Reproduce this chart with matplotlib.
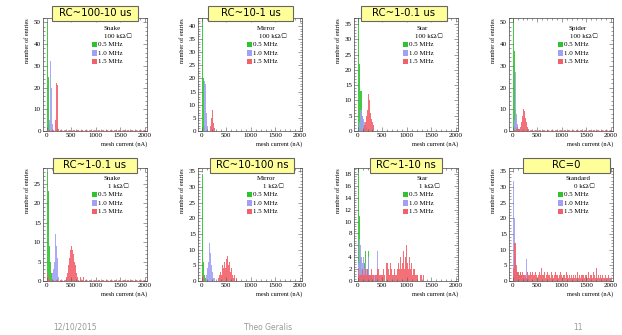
import matplotlib
matplotlib.use("Agg")
import matplotlib.pyplot as plt
from matplotlib.patches import Rectangle
from matplotlib.ticker import MultipleLocator, AutoMinorLocator
import numpy as np

# histogram counts, 20 nA bins starting at 0 nA
bin_width = 20

snake100_g = [50, 25, 3]
snake100_b = [0, 0, 5, 32, 20, 3]
snake100_r = [0, 0, 0, 0, 0, 0, 0, 0, 5, 22, 21, 6, 1]

mirror100_g = [43, 20, 2]
mirror100_b = [0, 0, 19, 18, 7, 2]
mirror100_r = [0, 0, 0, 0, 0, 0, 0, 0, 2, 5, 8, 7, 3, 1]

star100_g = [37, 22, 13, 13, 5, 2]
star100_b = [0, 3, 7, 7, 5, 4, 3, 2, 1]
star100_r = [0, 0, 0, 0, 0, 1, 2, 3, 5, 7, 12, 18, 10, 6, 4, 3, 2]

spider100_g = [52, 37, 10, 2]
spider100_b = [0, 5, 27, 8, 3]
spider100_r = [0, 0, 0, 1, 2, 1, 1, 2, 4, 7, 10, 11, 9, 6, 4, 2, 1]

snake1_g = [28, 23, 9, 5, 2]
snake1_b = [0, 0, 0, 0, 0, 2, 3, 5, 12, 9, 6, 3, 1]
snake1_r = [2, 1, 0, 0, 0, 0, 0, 0, 0, 0, 0, 0, 0, 0, 0, 0, 0, 0, 0, 0, 1,
            2, 4, 6, 8, 9, 8, 7, 5, 4, 2, 1, 0, 0, 1, 0, 0, 1]

mirror1_g = [34, 6, 2, 1]
mirror1_b = [0, 0, 0, 0, 2, 4, 6, 12, 9, 5, 3, 2, 1, 1]
mirror1_r = [2, 1, 0, 0, 0, 0, 0, 0, 0, 0, 0, 0, 0, 0, 0, 0, 0, 1, 2, 3,
             2, 5, 4, 6, 4, 7, 8, 5, 6, 3, 4, 2, 1, 2, 0, 1]

star1_g = [19, 11, 4, 2, 1, 2, 3, 5, 1, 2, 5, 1]
star1_b = [3, 7, 6, 4, 3, 4, 2, 3, 2, 1, 4, 2, 1, 1, 1, 0, 1, 1, 1, 0, 5]
star1_r = [2, 1, 1, 1, 2, 1, 1, 2, 1, 2,
           1, 2, 1, 1, 2, 1, 1, 0, 1, 1,
           2, 2, 1, 1, 1, 1, 2, 1, 0, 3,
           3, 2, 1, 3, 2, 1, 1, 2, 1, 1,
           2, 3, 2, 4, 2, 3, 5, 2, 4, 6,
           3, 2, 4, 2, 3, 1, 2, 2, 1, 1,
           1, 0, 0, 1, 1, 0, 1]

std0_g = [2, 1, 1, 2, 3, 2, 2, 3, 2, 1, 2, 1]
std0_b = [32, 20, 8, 3, 2, 1, 1, 2, 1, 1, 1, 1, 1, 1, 7, 3, 1]
std0_r = [4, 12, 12, 5, 3, 3, 2, 3, 2, 3,
          2, 3, 2, 2, 1, 3, 2, 2, 3, 2,
          3, 2, 2, 3, 2, 1, 2, 3, 2, 4,
          2, 2, 3, 1, 2, 3, 2, 2, 1, 3,
          2, 1, 2, 3, 2, 2, 1, 2, 3, 2,
          1, 2, 2, 1, 3, 2, 1, 2, 1, 2,
          1, 2, 1, 2, 1, 3, 1, 2, 1, 2,
          2, 1, 2, 1, 2, 2, 1, 3, 1, 2,
          2, 1, 3, 2, 1, 4, 1, 2, 1, 2,
          1, 2, 1, 1, 2, 1, 1, 2, 1, 1]

titles = ["RC~100-10 us", "RC~10-1 us", "RC~1-0.1 us", None,
          "RC~1-0.1 us", "RC~10-100 ns", "RC~1-10 ns", "RC=0"]
shapes = ["Snake", "Mirror", "Star", "Spider", "Snake", "Mirror", "Star", "Standard"]
resist = ["100 k\u03a9/\u25a1"] * 4 + ["1 k\u03a9/\u25a1"] * 3 + ["0 k\u03a9/\u25a1"]
ymax = [52, 43, 37, 52, 29, 36, 19, 36]
ystep = [10, 5, 5, 10, 5, 5, 2, 5]
series = [(snake100_g, snake100_b, snake100_r), (mirror100_g, mirror100_b, mirror100_r),
          (star100_g, star100_b, star100_r), (spider100_g, spider100_b, spider100_r),
          (snake1_g, snake1_b, snake1_r), (mirror1_g, mirror1_b, mirror1_r),
          (star1_g, star1_b, star1_r), (std0_g, std0_b, std0_r)]
freqs = ["0.5 MHz", "1.0 MHz", "1.5 MHz"]

colors = ["#2ec42e", "#a0a0f5", "#f2606a"]
serif = ["Liberation Serif", "DejaVu Serif"]

W, H = 622, 335
fig = plt.figure(figsize=(W / 100, H / 100), dpi=100)
fig.patch.set_facecolor("white")

col_left = [43, 198, 354, 509]
col_w = 104
row_top = [18, 168]
ax_h = 113
box_x = [(52, 138), (208, 293), (361, 447), None, (53, 137), (210, 294), (370, 442), (523, 610)]
box_y = [6, 6, 6, None, 158, 158, 158, 158]
nbins = 100
edges = np.arange(nbins + 1) * bin_width

for i in range(8):
    r, c = divmod(i, 4)
    l, t = col_left[c], row_top[r]
    ax = fig.add_axes([l / W, 1 - (t + ax_h) / H, col_w / W, ax_h / H])
    for k, counts in enumerate(series[i]):
        counts = np.array(counts + [0] * (nbins - len(counts)), dtype=float)
        ax.stairs(counts, edges, fill=True, color=colors[k], alpha=0.9, lw=0)
    # dashed baseline of the 1.5 MHz histogram
    ax.plot([0, 2000], [0.15 * ystep[i] / 5, 0.15 * ystep[i] / 5], color=colors[2],
            lw=0.6, ls=(0, (3, 2)))
    ax.set_xlim(-75, 2040)
    ax.set_ylim(0, ymax[i])
    ax.xaxis.set_major_locator(MultipleLocator(500))
    ax.yaxis.set_major_locator(MultipleLocator(ystep[i]))
    ax.xaxis.set_minor_locator(AutoMinorLocator(5))
    ax.yaxis.set_minor_locator(AutoMinorLocator(5))
    ax.tick_params(which="both", direction="in", top=True, right=True,
                   labelsize=5, pad=1.5, width=0.4, color="#555555")
    ax.tick_params(which="major", length=3)
    ax.tick_params(which="minor", length=1.5)
    for lab in ax.get_xticklabels() + ax.get_yticklabels():
        lab.set_family(serif)
    for s in ax.spines.values():
        s.set_linewidth(0.5)
        s.set_color("#444444")
    ax.set_xlabel("mesh current (nA)", fontsize=4.5, family=serif, loc="right", labelpad=2)
    ax.set_ylabel("number of entries", fontsize=4.5, family=serif, loc="top", labelpad=3)

    # legend block
    ax.text(0.66, 0.91, shapes[i], transform=ax.transAxes, fontsize=5, family=serif,
            ha="center", va="center")
    ax.text(0.72, 0.835, resist[i], transform=ax.transAxes, fontsize=5, family=serif,
            ha="center", va="center")
    for k in range(3):
        yy = 0.765 - 0.075 * k
        ax.add_patch(Rectangle((0.47, yy - 0.025), 0.05, 0.05, transform=ax.transAxes,
                               facecolor=colors[k], edgecolor="none"))
        ax.text(0.525, yy, freqs[k], transform=ax.transAxes, fontsize=5, family=serif,
                ha="left", va="center")

    if titles[i] is not None:
        x0, x1 = box_x[i]
        y0 = box_y[i]
        fig.patches.append(Rectangle((x0 / W, 1 - (y0 + 15) / H), (x1 - x0) / W, 15 / H,
                                     transform=fig.transFigure, facecolor="#ffff99",
                                     edgecolor="#666666", lw=0.8, zorder=5))
        fig.text((x0 + x1) / 2 / W, 1 - (y0 + 7.5) / H, titles[i], fontsize=7.3,
                 ha="center", va="center", zorder=6, family="DejaVu Sans")

fig.text(75 / W, 1 - 327 / H, "12/10/2015", fontsize=5.5, color="#999999", ha="center", va="center")
fig.text(268 / W, 1 - 327 / H, "Theo Geralis", fontsize=5.5, color="#999999", ha="center", va="center")
fig.text(578 / W, 1 - 327 / H, "11", fontsize=5.5, color="#999999", ha="center", va="center")

fig.savefig("out.png", dpi=100, facecolor="white")
